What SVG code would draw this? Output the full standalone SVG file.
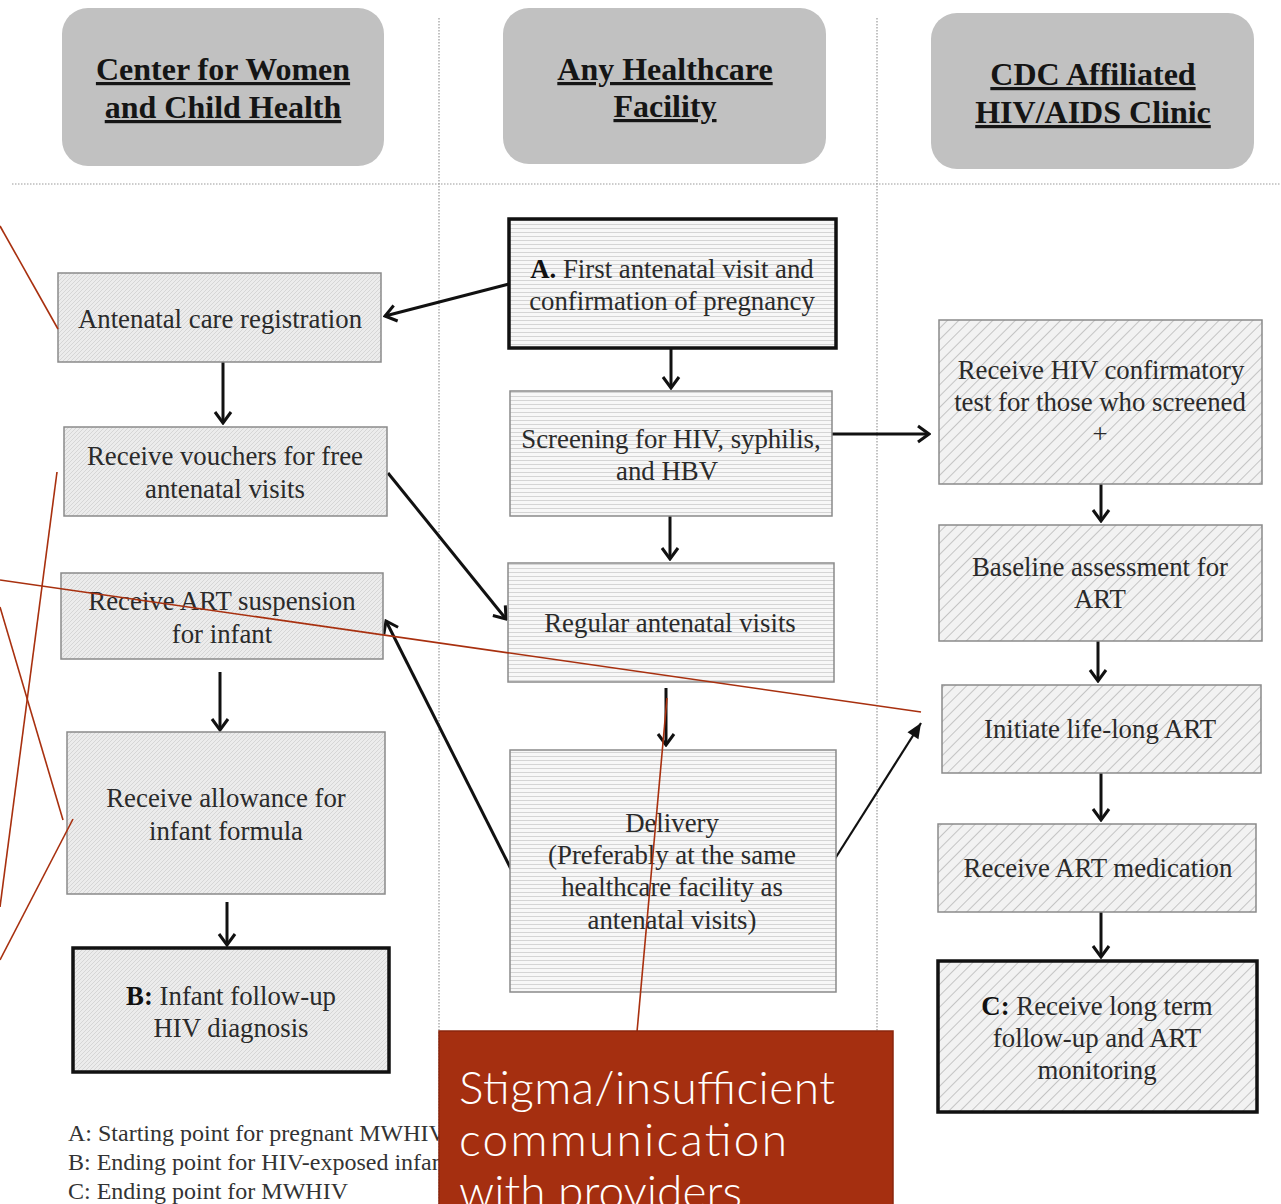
<svg xmlns="http://www.w3.org/2000/svg" width="1281" height="1204" viewBox="0 0 1281 1204">
<style>
.hdr{fill:#c1c1c1}
.ht{font-family:"Liberation Serif",serif;font-weight:bold;font-size:32px;fill:#151515;text-anchor:middle;text-decoration:underline}
.t{font-family:"Liberation Serif",serif;font-size:26.8px;fill:#2a2a2a;text-anchor:middle}
.b{font-weight:bold;fill:#111}
.c1{fill:url(#pc1);stroke:#8a8a8a;stroke-width:1.5}
.c2{fill:url(#pc2);stroke:#8a8a8a;stroke-width:1.5}
.c3{fill:url(#pc3);stroke:#8a8a8a;stroke-width:1.5}
.thick{stroke:#111;stroke-width:3.5}
.sep{stroke:#9a9a9a;stroke-width:1.2;stroke-dasharray:1.5 1.5;fill:none}
.ar{stroke:#111;stroke-width:3;fill:none;marker-end:url(#open)}
.ar2{stroke:#111;stroke-width:2.2;fill:none;marker-end:url(#solid)}
.red{stroke:#a8300f;stroke-width:1.6;fill:none}
.leg{font-family:"Liberation Serif",serif;font-size:24px;fill:#333}
.rt{font-family:"Lato","Open Sans",sans-serif;font-weight:300;font-size:46px;fill:#ffffff}
</style>
<defs>
<pattern id="pc1" width="4" height="4" patternUnits="userSpaceOnUse">
<rect width="4" height="4" fill="#ececec"/>
<path d="M0,4 L4,0" stroke="#d6d6d6" stroke-width="1"/>
</pattern>
<pattern id="pc2" width="4" height="4" patternUnits="userSpaceOnUse">
<rect width="4" height="4" fill="#f7f7f7"/>
<path d="M0,0.5 L4,0.5" stroke="#d4d4d4" stroke-width="1"/>
</pattern>
<pattern id="pc3" width="8" height="8" patternUnits="userSpaceOnUse" patternTransform="rotate(45)">
<rect width="8" height="8" fill="#f2f2f2"/>
<path d="M0,0 L0,8" stroke="#b9b9b9" stroke-width="1.6"/>
</pattern>
<marker id="open" viewBox="-14 -10 16 20" markerWidth="16" markerHeight="20" refX="0" refY="0" orient="auto" markerUnits="userSpaceOnUse">
<path d="M-11,-8 L0,0 L-11,8" stroke="#111" stroke-width="3" fill="none"/>
</marker>
<marker id="solid" viewBox="-16 -8 17 16" markerWidth="17" markerHeight="16" refX="0" refY="0" orient="auto" markerUnits="userSpaceOnUse">
<path d="M-15,-6.5 L0,0 L-15,6.5 Z" fill="#111"/>
</marker>
</defs>
<rect width="1281" height="1204" fill="#ffffff"/>

<g id="separators">
<line class="sep" x1="12" y1="184" x2="1281" y2="184"/>
<line class="sep" x1="439" y1="18" x2="439" y2="1204"/>
<line class="sep" x1="877" y1="18" x2="877" y2="1032"/>
</g>

<g id="header-cwch">
<rect class="hdr" x="62" y="8" width="322" height="158" rx="26"/>
<text class="ht" x="223" y="80">Center for Women</text>
<text class="ht" x="223" y="118">and Child Health</text>
</g>
<g id="header-ahf">
<rect class="hdr" x="503" y="8" width="323" height="156" rx="26"/>
<text class="ht" x="665" y="80">Any Healthcare</text>
<text class="ht" x="665" y="117">Facility</text>
</g>
<g id="header-cdc">
<rect class="hdr" x="931" y="13" width="323" height="156" rx="26"/>
<text class="ht" x="1093" y="85">CDC Affiliated</text>
<text class="ht" x="1093" y="123">HIV/AIDS Clinic</text>
</g>

<g id="connectors">
<line class="ar" x1="509" y1="284" x2="385" y2="316"/>
<line class="ar" x1="671" y1="348" x2="671" y2="388"/>
<line class="ar" x1="223" y1="362" x2="223" y2="423"/>
<line class="ar" x1="388" y1="473" x2="506" y2="619"/>
<line class="ar" x1="832" y1="434" x2="929" y2="434"/>
<line class="ar" x1="670" y1="516" x2="670" y2="559"/>
<line class="ar" x1="666" y1="688" x2="666" y2="745"/>
<line class="ar" x1="511" y1="869" x2="386" y2="621"/>
<line class="ar" x1="220" y1="672" x2="220" y2="730"/>
<line class="ar" x1="227" y1="902" x2="227" y2="945"/>
<line class="ar2" x1="831" y1="865" x2="921" y2="723"/>
<line class="ar" x1="1101" y1="484" x2="1101" y2="521"/>
<line class="ar" x1="1098" y1="641" x2="1098" y2="681"/>
<line class="ar" x1="1101" y1="773" x2="1101" y2="820"/>
<line class="ar" x1="1101" y1="912" x2="1101" y2="957"/>
</g>

<g id="antenatal-registration">
<rect class="c1" x="58" y="273" width="323" height="89"/>
<text class="t" x="220" y="328">Antenatal care registration</text>
</g>
<g id="vouchers">
<rect class="c1" x="64" y="427" width="323" height="89"/>
<text class="t" x="225" y="465">Receive vouchers for free</text>
<text class="t" x="225" y="498">antenatal visits</text>
</g>
<g id="art-suspension">
<rect class="c1" x="61" y="573" width="322" height="86"/>
<text class="t" x="222" y="610">Receive ART suspension</text>
<text class="t" x="222" y="643">for infant</text>
</g>
<g id="allowance">
<rect class="c1" x="67" y="732" width="318" height="162"/>
<text class="t" x="226" y="807">Receive allowance for</text>
<text class="t" x="226" y="840">infant formula</text>
</g>
<g id="infant-followup">
<rect class="c1 thick" x="73" y="948" width="316" height="124"/>
<text class="t" x="231" y="1005"><tspan class="b">B:</tspan> Infant follow-up</text>
<text class="t" x="231" y="1037">HIV diagnosis</text>
</g>

<g id="first-visit">
<rect class="c2 thick" x="509" y="219" width="327" height="129"/>
<text class="t" x="672" y="278"><tspan class="b">A.</tspan> First antenatal visit and</text>
<text class="t" x="672" y="310">confirmation of pregnancy</text>
</g>
<g id="screening">
<rect class="c2" x="510" y="391" width="322" height="125"/>
<text class="t" x="671" y="448">Screening for HIV, syphilis,</text>
<text class="t" x="667" y="480">and HBV</text>
</g>
<g id="regular-visits">
<rect class="c2" x="508" y="563" width="326" height="119"/>
<text class="t" x="670" y="632">Regular antenatal visits</text>
</g>
<g id="delivery">
<rect class="c2" x="510" y="750" width="326" height="242"/>
<text class="t" x="672" y="832">Delivery</text>
<text class="t" x="672" y="864">(Preferably at the same</text>
<text class="t" x="672" y="896">healthcare facility as</text>
<text class="t" x="672" y="929">antenatal visits)</text>
</g>

<g id="confirmatory-test">
<rect class="c3" x="939" y="320" width="323" height="164"/>
<text class="t" x="1101" y="379">Receive HIV confirmatory</text>
<text class="t" x="1100" y="411">test for those who screened</text>
<text class="t" x="1100" y="443">+</text>
</g>
<g id="baseline-assessment">
<rect class="c3" x="939" y="525" width="323" height="116"/>
<text class="t" x="1100" y="576">Baseline assessment for</text>
<text class="t" x="1100" y="608">ART</text>
</g>
<g id="initiate-art">
<rect class="c3" x="942" y="685" width="319" height="88"/>
<text class="t" x="1100" y="738">Initiate life-long ART</text>
</g>
<g id="art-medication">
<rect class="c3" x="938" y="824" width="318" height="88"/>
<text class="t" x="1098" y="877">Receive ART medication</text>
</g>
<g id="long-term-followup">
<rect class="c3 thick" x="938" y="961" width="319" height="151"/>
<text class="t" x="1097" y="1015"><tspan class="b">C:</tspan> Receive long term</text>
<text class="t" x="1097" y="1047">follow-up and ART</text>
<text class="t" x="1097" y="1079">monitoring</text>
</g>

<g id="legend">
<text class="leg" x="68" y="1141">A: Starting point for pregnant MWHIV</text>
<text class="leg" x="68" y="1170">B: Ending point for HIV-exposed infants</text>
<text class="leg" x="68" y="1199">C: Ending point for MWHIV</text>
</g>

<g id="red-lines">
<line class="red" x1="0" y1="226" x2="58" y2="329"/>
<line class="red" x1="57" y1="472" x2="0" y2="907"/>
<line class="red" x1="0" y1="580" x2="921" y2="712"/>
<line class="red" x1="0" y1="607" x2="63" y2="820"/>
<line class="red" x1="73" y1="819" x2="0" y2="960"/>
<line class="red" x1="667" y1="698" x2="637" y2="1032"/>
</g>

<g id="stigma-callout">
<rect x="439" y="1031" width="454" height="180" fill="#a52f10" stroke="#8a260c" stroke-width="1.5"/>
<text class="rt" x="459" y="1104" textLength="376">Stigma/insufficient</text>
<text class="rt" x="459" y="1156" textLength="328">communication</text>
<text class="rt" x="459" y="1208" textLength="283">with providers</text>
</g>
</svg>
